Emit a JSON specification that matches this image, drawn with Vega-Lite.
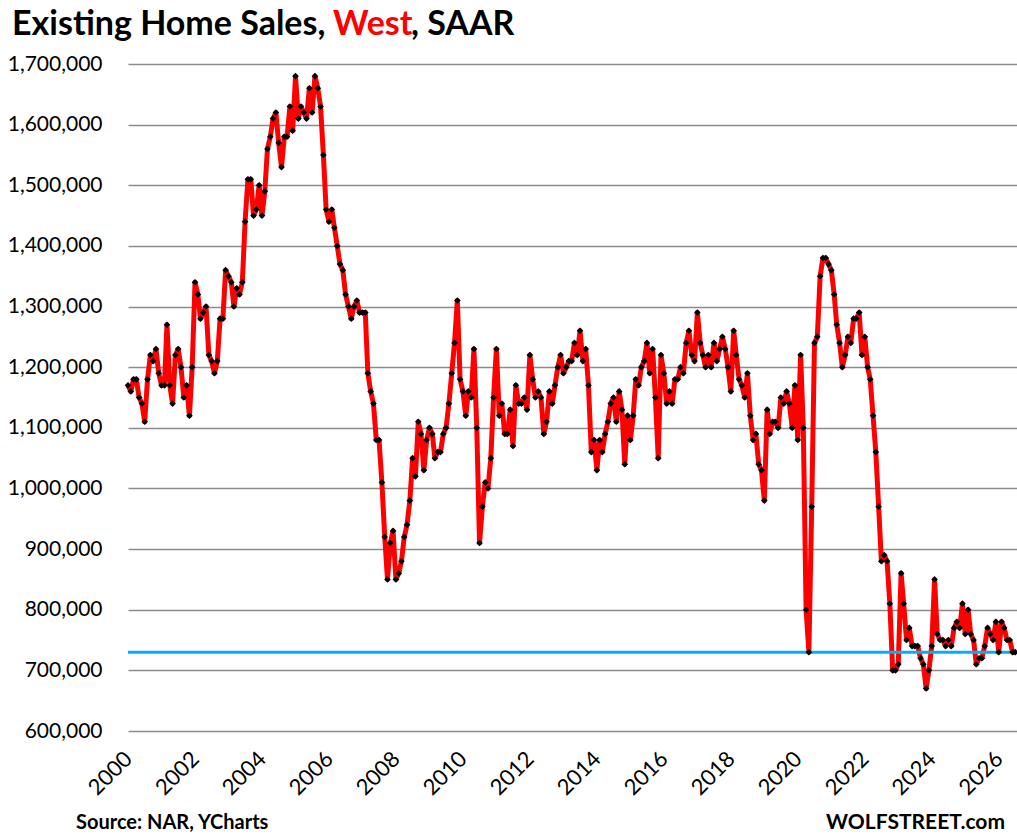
{
  "$schema": "https://vega.github.io/schema/vega-lite/v6.json",
  "width": 889,
  "height": 667,
  "autosize": "none",
  "padding": {"left": 128, "top": 64, "right": 0, "bottom": 106},
  "background": "white",
  "config": {
    "view": {"stroke": null},
    "font": "Lato",
    "axis": {"labelFont": "Lato", "labelColor": "#000000"}
  },
  "datasets": {
    "sales": [
      {"date": "2000-01-01", "sales": 1170000}, {"date": "2000-02-01", "sales": 1160000}, {"date": "2000-03-01", "sales": 1180000}, {"date": "2000-04-01", "sales": 1180000},
      {"date": "2000-05-01", "sales": 1150000}, {"date": "2000-06-01", "sales": 1140000}, {"date": "2000-07-01", "sales": 1110000}, {"date": "2000-08-01", "sales": 1180000},
      {"date": "2000-09-01", "sales": 1220000}, {"date": "2000-10-01", "sales": 1210000}, {"date": "2000-11-01", "sales": 1230000}, {"date": "2000-12-01", "sales": 1190000},
      {"date": "2001-01-01", "sales": 1170000}, {"date": "2001-02-01", "sales": 1170000}, {"date": "2001-03-01", "sales": 1270000}, {"date": "2001-04-01", "sales": 1170000},
      {"date": "2001-05-01", "sales": 1140000}, {"date": "2001-06-01", "sales": 1220000}, {"date": "2001-07-01", "sales": 1230000}, {"date": "2001-08-01", "sales": 1200000},
      {"date": "2001-09-01", "sales": 1150000}, {"date": "2001-10-01", "sales": 1170000}, {"date": "2001-11-01", "sales": 1120000}, {"date": "2001-12-01", "sales": 1200000},
      {"date": "2002-01-01", "sales": 1340000}, {"date": "2002-02-01", "sales": 1320000}, {"date": "2002-03-01", "sales": 1280000}, {"date": "2002-04-01", "sales": 1290000},
      {"date": "2002-05-01", "sales": 1300000}, {"date": "2002-06-01", "sales": 1220000}, {"date": "2002-07-01", "sales": 1210000}, {"date": "2002-08-01", "sales": 1190000},
      {"date": "2002-09-01", "sales": 1210000}, {"date": "2002-10-01", "sales": 1280000}, {"date": "2002-11-01", "sales": 1280000}, {"date": "2002-12-01", "sales": 1360000},
      {"date": "2003-01-01", "sales": 1350000}, {"date": "2003-02-01", "sales": 1340000}, {"date": "2003-03-01", "sales": 1300000}, {"date": "2003-04-01", "sales": 1330000},
      {"date": "2003-05-01", "sales": 1320000}, {"date": "2003-06-01", "sales": 1340000}, {"date": "2003-07-01", "sales": 1440000}, {"date": "2003-08-01", "sales": 1510000},
      {"date": "2003-09-01", "sales": 1510000}, {"date": "2003-10-01", "sales": 1450000}, {"date": "2003-11-01", "sales": 1460000}, {"date": "2003-12-01", "sales": 1500000},
      {"date": "2004-01-01", "sales": 1450000}, {"date": "2004-02-01", "sales": 1490000}, {"date": "2004-03-01", "sales": 1560000}, {"date": "2004-04-01", "sales": 1580000},
      {"date": "2004-05-01", "sales": 1610000}, {"date": "2004-06-01", "sales": 1620000}, {"date": "2004-07-01", "sales": 1570000}, {"date": "2004-08-01", "sales": 1530000},
      {"date": "2004-09-01", "sales": 1580000}, {"date": "2004-10-01", "sales": 1580000}, {"date": "2004-11-01", "sales": 1630000}, {"date": "2004-12-01", "sales": 1590000},
      {"date": "2005-01-01", "sales": 1680000}, {"date": "2005-02-01", "sales": 1610000}, {"date": "2005-03-01", "sales": 1630000}, {"date": "2005-04-01", "sales": 1620000},
      {"date": "2005-05-01", "sales": 1610000}, {"date": "2005-06-01", "sales": 1660000}, {"date": "2005-07-01", "sales": 1620000}, {"date": "2005-08-01", "sales": 1680000},
      {"date": "2005-09-01", "sales": 1660000}, {"date": "2005-10-01", "sales": 1630000}, {"date": "2005-11-01", "sales": 1550000}, {"date": "2005-12-01", "sales": 1460000},
      {"date": "2006-01-01", "sales": 1440000}, {"date": "2006-02-01", "sales": 1460000}, {"date": "2006-03-01", "sales": 1430000}, {"date": "2006-04-01", "sales": 1400000},
      {"date": "2006-05-01", "sales": 1370000}, {"date": "2006-06-01", "sales": 1360000}, {"date": "2006-07-01", "sales": 1320000}, {"date": "2006-08-01", "sales": 1300000},
      {"date": "2006-09-01", "sales": 1280000}, {"date": "2006-10-01", "sales": 1300000}, {"date": "2006-11-01", "sales": 1310000}, {"date": "2006-12-01", "sales": 1290000},
      {"date": "2007-01-01", "sales": 1290000}, {"date": "2007-02-01", "sales": 1290000}, {"date": "2007-03-01", "sales": 1190000}, {"date": "2007-04-01", "sales": 1160000},
      {"date": "2007-05-01", "sales": 1140000}, {"date": "2007-06-01", "sales": 1080000}, {"date": "2007-07-01", "sales": 1080000}, {"date": "2007-08-01", "sales": 1010000},
      {"date": "2007-09-01", "sales": 920000}, {"date": "2007-10-01", "sales": 850000}, {"date": "2007-11-01", "sales": 910000}, {"date": "2007-12-01", "sales": 930000},
      {"date": "2008-01-01", "sales": 850000}, {"date": "2008-02-01", "sales": 860000}, {"date": "2008-03-01", "sales": 880000}, {"date": "2008-04-01", "sales": 920000},
      {"date": "2008-05-01", "sales": 940000}, {"date": "2008-06-01", "sales": 980000}, {"date": "2008-07-01", "sales": 1050000}, {"date": "2008-08-01", "sales": 1020000},
      {"date": "2008-09-01", "sales": 1110000}, {"date": "2008-10-01", "sales": 1090000}, {"date": "2008-11-01", "sales": 1030000}, {"date": "2008-12-01", "sales": 1080000},
      {"date": "2009-01-01", "sales": 1100000}, {"date": "2009-02-01", "sales": 1090000}, {"date": "2009-03-01", "sales": 1050000}, {"date": "2009-04-01", "sales": 1060000},
      {"date": "2009-05-01", "sales": 1060000}, {"date": "2009-06-01", "sales": 1090000}, {"date": "2009-07-01", "sales": 1100000}, {"date": "2009-08-01", "sales": 1140000},
      {"date": "2009-09-01", "sales": 1190000}, {"date": "2009-10-01", "sales": 1240000}, {"date": "2009-11-01", "sales": 1310000}, {"date": "2009-12-01", "sales": 1180000},
      {"date": "2010-01-01", "sales": 1160000}, {"date": "2010-02-01", "sales": 1120000}, {"date": "2010-03-01", "sales": 1160000}, {"date": "2010-04-01", "sales": 1150000},
      {"date": "2010-05-01", "sales": 1230000}, {"date": "2010-06-01", "sales": 1100000}, {"date": "2010-07-01", "sales": 910000}, {"date": "2010-08-01", "sales": 970000},
      {"date": "2010-09-01", "sales": 1010000}, {"date": "2010-10-01", "sales": 1000000}, {"date": "2010-11-01", "sales": 1050000}, {"date": "2010-12-01", "sales": 1150000},
      {"date": "2011-01-01", "sales": 1230000}, {"date": "2011-02-01", "sales": 1120000}, {"date": "2011-03-01", "sales": 1140000}, {"date": "2011-04-01", "sales": 1090000},
      {"date": "2011-05-01", "sales": 1090000}, {"date": "2011-06-01", "sales": 1130000}, {"date": "2011-07-01", "sales": 1070000}, {"date": "2011-08-01", "sales": 1170000},
      {"date": "2011-09-01", "sales": 1140000}, {"date": "2011-10-01", "sales": 1140000}, {"date": "2011-11-01", "sales": 1150000}, {"date": "2011-12-01", "sales": 1130000},
      {"date": "2012-01-01", "sales": 1220000}, {"date": "2012-02-01", "sales": 1180000}, {"date": "2012-03-01", "sales": 1150000}, {"date": "2012-04-01", "sales": 1160000},
      {"date": "2012-05-01", "sales": 1150000}, {"date": "2012-06-01", "sales": 1090000}, {"date": "2012-07-01", "sales": 1110000}, {"date": "2012-08-01", "sales": 1160000},
      {"date": "2012-09-01", "sales": 1140000}, {"date": "2012-10-01", "sales": 1170000}, {"date": "2012-11-01", "sales": 1200000}, {"date": "2012-12-01", "sales": 1220000},
      {"date": "2013-01-01", "sales": 1190000}, {"date": "2013-02-01", "sales": 1200000}, {"date": "2013-03-01", "sales": 1210000}, {"date": "2013-04-01", "sales": 1210000},
      {"date": "2013-05-01", "sales": 1240000}, {"date": "2013-06-01", "sales": 1220000}, {"date": "2013-07-01", "sales": 1260000}, {"date": "2013-08-01", "sales": 1210000},
      {"date": "2013-09-01", "sales": 1230000}, {"date": "2013-10-01", "sales": 1170000}, {"date": "2013-11-01", "sales": 1060000}, {"date": "2013-12-01", "sales": 1080000},
      {"date": "2014-01-01", "sales": 1030000}, {"date": "2014-02-01", "sales": 1080000}, {"date": "2014-03-01", "sales": 1060000}, {"date": "2014-04-01", "sales": 1090000},
      {"date": "2014-05-01", "sales": 1110000}, {"date": "2014-06-01", "sales": 1140000}, {"date": "2014-07-01", "sales": 1150000}, {"date": "2014-08-01", "sales": 1110000},
      {"date": "2014-09-01", "sales": 1160000}, {"date": "2014-10-01", "sales": 1130000}, {"date": "2014-11-01", "sales": 1040000}, {"date": "2014-12-01", "sales": 1120000},
      {"date": "2015-01-01", "sales": 1080000}, {"date": "2015-02-01", "sales": 1120000}, {"date": "2015-03-01", "sales": 1180000}, {"date": "2015-04-01", "sales": 1170000},
      {"date": "2015-05-01", "sales": 1200000}, {"date": "2015-06-01", "sales": 1210000}, {"date": "2015-07-01", "sales": 1240000}, {"date": "2015-08-01", "sales": 1190000},
      {"date": "2015-09-01", "sales": 1230000}, {"date": "2015-10-01", "sales": 1150000}, {"date": "2015-11-01", "sales": 1050000}, {"date": "2015-12-01", "sales": 1220000},
      {"date": "2016-01-01", "sales": 1190000}, {"date": "2016-02-01", "sales": 1140000}, {"date": "2016-03-01", "sales": 1160000}, {"date": "2016-04-01", "sales": 1140000},
      {"date": "2016-05-01", "sales": 1180000}, {"date": "2016-06-01", "sales": 1180000}, {"date": "2016-07-01", "sales": 1200000}, {"date": "2016-08-01", "sales": 1190000},
      {"date": "2016-09-01", "sales": 1240000}, {"date": "2016-10-01", "sales": 1260000}, {"date": "2016-11-01", "sales": 1220000}, {"date": "2016-12-01", "sales": 1210000},
      {"date": "2017-01-01", "sales": 1290000}, {"date": "2017-02-01", "sales": 1240000}, {"date": "2017-03-01", "sales": 1220000}, {"date": "2017-04-01", "sales": 1200000},
      {"date": "2017-05-01", "sales": 1220000}, {"date": "2017-06-01", "sales": 1200000}, {"date": "2017-07-01", "sales": 1240000}, {"date": "2017-08-01", "sales": 1210000},
      {"date": "2017-09-01", "sales": 1230000}, {"date": "2017-10-01", "sales": 1250000}, {"date": "2017-11-01", "sales": 1230000}, {"date": "2017-12-01", "sales": 1200000},
      {"date": "2018-01-01", "sales": 1160000}, {"date": "2018-02-01", "sales": 1260000}, {"date": "2018-03-01", "sales": 1220000}, {"date": "2018-04-01", "sales": 1180000},
      {"date": "2018-05-01", "sales": 1170000}, {"date": "2018-06-01", "sales": 1150000}, {"date": "2018-07-01", "sales": 1190000}, {"date": "2018-08-01", "sales": 1120000},
      {"date": "2018-09-01", "sales": 1080000}, {"date": "2018-10-01", "sales": 1090000}, {"date": "2018-11-01", "sales": 1040000}, {"date": "2018-12-01", "sales": 1030000},
      {"date": "2019-01-01", "sales": 980000}, {"date": "2019-02-01", "sales": 1130000}, {"date": "2019-03-01", "sales": 1090000}, {"date": "2019-04-01", "sales": 1110000},
      {"date": "2019-05-01", "sales": 1110000}, {"date": "2019-06-01", "sales": 1100000}, {"date": "2019-07-01", "sales": 1150000}, {"date": "2019-08-01", "sales": 1140000},
      {"date": "2019-09-01", "sales": 1160000}, {"date": "2019-10-01", "sales": 1140000}, {"date": "2019-11-01", "sales": 1100000}, {"date": "2019-12-01", "sales": 1170000},
      {"date": "2020-01-01", "sales": 1080000}, {"date": "2020-02-01", "sales": 1220000}, {"date": "2020-03-01", "sales": 1100000}, {"date": "2020-04-01", "sales": 800000},
      {"date": "2020-05-01", "sales": 730000}, {"date": "2020-06-01", "sales": 970000}, {"date": "2020-07-01", "sales": 1240000}, {"date": "2020-08-01", "sales": 1250000},
      {"date": "2020-09-01", "sales": 1350000}, {"date": "2020-10-01", "sales": 1380000}, {"date": "2020-11-01", "sales": 1380000}, {"date": "2020-12-01", "sales": 1370000},
      {"date": "2021-01-01", "sales": 1360000}, {"date": "2021-02-01", "sales": 1320000}, {"date": "2021-03-01", "sales": 1270000}, {"date": "2021-04-01", "sales": 1240000},
      {"date": "2021-05-01", "sales": 1200000}, {"date": "2021-06-01", "sales": 1220000}, {"date": "2021-07-01", "sales": 1250000}, {"date": "2021-08-01", "sales": 1240000},
      {"date": "2021-09-01", "sales": 1280000}, {"date": "2021-10-01", "sales": 1280000}, {"date": "2021-11-01", "sales": 1290000}, {"date": "2021-12-01", "sales": 1220000},
      {"date": "2022-01-01", "sales": 1250000}, {"date": "2022-02-01", "sales": 1200000}, {"date": "2022-03-01", "sales": 1180000}, {"date": "2022-04-01", "sales": 1120000},
      {"date": "2022-05-01", "sales": 1060000}, {"date": "2022-06-01", "sales": 970000}, {"date": "2022-07-01", "sales": 880000}, {"date": "2022-08-01", "sales": 890000},
      {"date": "2022-09-01", "sales": 880000}, {"date": "2022-10-01", "sales": 810000}, {"date": "2022-11-01", "sales": 700000}, {"date": "2022-12-01", "sales": 700000},
      {"date": "2023-01-01", "sales": 710000}, {"date": "2023-02-01", "sales": 860000}, {"date": "2023-03-01", "sales": 810000}, {"date": "2023-04-01", "sales": 750000},
      {"date": "2023-05-01", "sales": 770000}, {"date": "2023-06-01", "sales": 740000}, {"date": "2023-07-01", "sales": 740000}, {"date": "2023-08-01", "sales": 740000},
      {"date": "2023-09-01", "sales": 720000}, {"date": "2023-10-01", "sales": 710000}, {"date": "2023-11-01", "sales": 670000}, {"date": "2023-12-01", "sales": 700000},
      {"date": "2024-01-01", "sales": 740000}, {"date": "2024-02-01", "sales": 850000}, {"date": "2024-03-01", "sales": 760000}, {"date": "2024-04-01", "sales": 750000},
      {"date": "2024-05-01", "sales": 750000}, {"date": "2024-06-01", "sales": 740000}, {"date": "2024-07-01", "sales": 750000}, {"date": "2024-08-01", "sales": 740000},
      {"date": "2024-09-01", "sales": 770000}, {"date": "2024-10-01", "sales": 780000}, {"date": "2024-11-01", "sales": 770000}, {"date": "2024-12-01", "sales": 810000},
      {"date": "2025-01-01", "sales": 760000}, {"date": "2025-02-01", "sales": 800000}, {"date": "2025-03-01", "sales": 760000}, {"date": "2025-04-01", "sales": 750000},
      {"date": "2025-05-01", "sales": 710000}, {"date": "2025-06-01", "sales": 720000}, {"date": "2025-07-01", "sales": 720000}, {"date": "2025-08-01", "sales": 740000},
      {"date": "2025-09-01", "sales": 770000}, {"date": "2025-10-01", "sales": 760000}, {"date": "2025-11-01", "sales": 750000}, {"date": "2025-12-01", "sales": 780000},
      {"date": "2026-01-01", "sales": 730000}, {"date": "2026-02-01", "sales": 780000}, {"date": "2026-03-01", "sales": 770000}, {"date": "2026-04-01", "sales": 750000},
      {"date": "2026-05-01", "sales": 750000}, {"date": "2026-06-01", "sales": 730000}, {"date": "2026-07-01", "sales": 730000}
    ]
  },
  "layer": [
    {
      "data": {"name": "sales"},
      "mark": {"type": "line", "color": "#FF0000", "strokeWidth": 5, "strokeJoin": "round"},
      "encoding": {
        "x": {
          "field": "date",
          "type": "temporal",
          "scale": {"type": "utc", "domain": [{"year": 2000, "month": 1, "date": 1, "utc": true}, {"year": 2026, "month": 7, "date": 19, "utc": true}]},
          "axis": {
            "title": null,
            "format": "%Y",
            "tickCount": {"interval": "year", "step": 2},
            "domain": false,
            "ticks": false,
            "grid": false,
            "labelAngle": -45,
            "labelAlign": "right",
            "labelBaseline": "middle",
            "labelFontSize": 22,
            "labelPadding": 24
          }
        },
        "y": {
          "field": "sales",
          "type": "quantitative",
          "scale": {"domain": [600000, 1700000], "nice": false, "zero": false},
          "axis": {
            "title": null,
            "values": [600000, 700000, 800000, 900000, 1000000, 1100000, 1200000, 1300000, 1400000, 1500000, 1600000, 1700000],
            "format": ",d",
            "domain": false,
            "ticks": false,
            "grid": true,
            "gridColor": "#8c8c8c",
            "gridWidth": 1.6,
            "labelFontSize": 21,
            "labelPadding": 26
          }
        }
      }
    },
    {
      "data": {"values": [{"level": 730000}]},
      "mark": {"type": "rule", "color": "#00B0F0", "strokeWidth": 3},
      "encoding": {"y": {"field": "level", "type": "quantitative"}}
    },
    {
      "data": {"name": "sales"},
      "mark": {"type": "point", "shape": "diamond", "filled": true, "color": "#000000", "size": 44, "opacity": 1},
      "encoding": {
        "x": {"field": "date", "type": "temporal"},
        "y": {"field": "sales", "type": "quantitative"}
      }
    },
    {
      "data": {"values": [{"t": "Existing Home Sales,"}]},
      "mark": {"type": "text", "align": "left", "baseline": "alphabetic", "font": "Lato", "fontWeight": "bold", "fontSize": 34, "color": "#000000"},
      "encoding": {"x": {"value": -116}, "y": {"value": -29}, "text": {"field": "t"}}
    },
    {
      "data": {"values": [{"t": "West"}]},
      "mark": {"type": "text", "align": "left", "baseline": "alphabetic", "font": "Lato", "fontWeight": "bold", "fontSize": 34, "color": "#FF0000"},
      "encoding": {"x": {"value": 205}, "y": {"value": -29}, "text": {"field": "t"}}
    },
    {
      "data": {"values": [{"t": ", SAAR"}]},
      "mark": {"type": "text", "align": "left", "baseline": "alphabetic", "font": "Lato", "fontWeight": "bold", "fontSize": 34, "color": "#000000"},
      "encoding": {"x": {"value": 283}, "y": {"value": -29}, "text": {"field": "t"}}
    },
    {
      "data": {"values": [{"t": "Source: NAR, YCharts"}]},
      "mark": {"type": "text", "align": "left", "baseline": "alphabetic", "font": "Lato", "fontWeight": "bold", "fontSize": 20, "color": "#000000"},
      "encoding": {"x": {"value": -52}, "y": {"value": 765}, "text": {"field": "t"}}
    },
    {
      "data": {"values": [{"t": "WOLFSTREET.com"}]},
      "mark": {"type": "text", "align": "right", "baseline": "alphabetic", "font": "Lato", "fontWeight": "bold", "fontSize": 21, "color": "#000000"},
      "encoding": {"x": {"value": 877}, "y": {"value": 765}, "text": {"field": "t"}}
    }
  ]
}
